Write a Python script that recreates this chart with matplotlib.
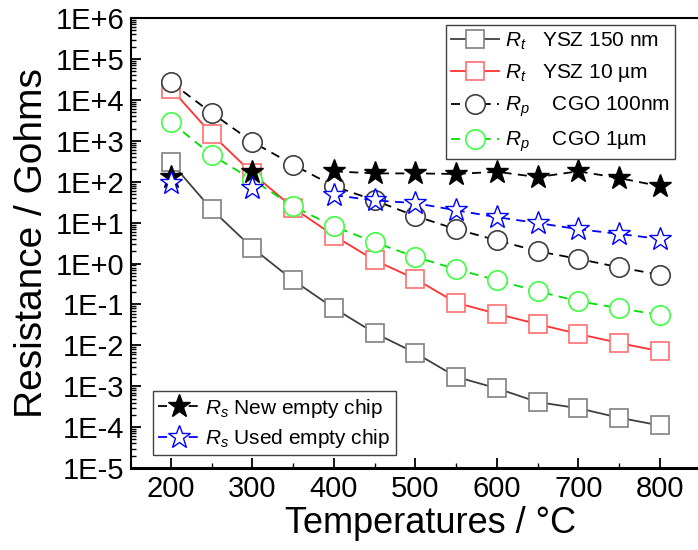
import matplotlib.pyplot as plt
import numpy as np
from matplotlib.ticker import FuncFormatter, MultipleLocator, LogLocator, NullFormatter

plt.rcParams['font.family'] = ['Liberation Sans', 'DejaVu Sans']
plt.rcParams['mathtext.fontset'] = 'custom'
plt.rcParams['mathtext.rm'] = 'Liberation Sans'
plt.rcParams['mathtext.it'] = 'Liberation Sans:italic'

# Data
temps = [200, 250, 300, 350, 400, 450, 500, 550, 600, 650, 700, 750, 800]
rt_ysz_150nm = [300, 21, 2.4, 0.39, 0.081, 0.020, 0.0065, 0.0017, 8.9e-4, 4.1e-4, 2.9e-4, 1.7e-4, 1.1e-4]
rt_ysz_10um = [1.9e4, 1450, 160, 23, 4.8, 1.2, 0.42, 0.11, 0.059, 0.033, 0.019, 0.0114, 0.0072]
rp_cgo_100nm = [2.7e4, 4800, 940, 260, 78, 35, 14.5, 6.9, 3.7, 2.0, 1.3, 0.81, 0.53]
rp_cgo_1um = [2870, 450, 112, 25, 8.1, 3.3, 1.45, 0.73, 0.39, 0.21, 0.12, 0.081, 0.055]
rs_new = [130, np.nan, 170, np.nan, 180, 160, 160, 155, 175, 130, 180, 123, 78]
rs_used = [93, np.nan, 69, np.nan, 47, 35, 30, 20, 13.6, 9.8, 6.9, 5.3, 4.0]

fig = plt.figure(figsize=(6.98, 5.5), dpi=100)
# right spine sits just past the canvas edge, as in the original
ax = fig.add_axes([0.1877, 0.149, 0.857, 0.818])

dash = (0, (5, 3.5))
l1, = ax.plot(temps, rt_ysz_150nm, '-', color='#404040', lw=1.3, marker='s', ms=13,
              mfc='white', mec='#808080', mew=1.2, label='$R_t$   YSZ 150 nm')
l2, = ax.plot(temps, rt_ysz_10um, '-', color='#ff3030', lw=1.3, marker='s', ms=13,
              mfc='white', mec='#ff7070', mew=1.2, label='$R_t$   YSZ 10 µm')
l3, = ax.plot(temps, rp_cgo_100nm, linestyle=dash, color='black', lw=1.3, marker='o', ms=14,
              mfc='white', mec='#404040', mew=1.2, label='$R_p$    CGO 100nm')
l4, = ax.plot(temps, rp_cgo_1um, linestyle=dash, color='#00e000', lw=1.3, marker='o', ms=14,
              mfc='white', mec='#40ff40', mew=1.2, label='$R_p$    CGO 1µm')
l5, = ax.plot(temps, rs_new, linestyle=dash, color='black', lw=1.3, marker='*', ms=17,
              mfc='black', mec='black', mew=1.0, label='$R_s$ New empty chip')
l6, = ax.plot(temps, rs_used, linestyle=dash, color='#0000ff', lw=1.3, marker='*', ms=17,
              mfc='white', mec='#0000ff', mew=1.0, label='$R_s$ Used empty chip')

ax.set_yscale('log')
ax.set_ylim(1e-5, 1e6)
ax.set_xlim(151, 885)

ax.xaxis.set_major_locator(MultipleLocator(100))
ax.xaxis.set_minor_locator(MultipleLocator(50))
ax.yaxis.set_major_locator(LogLocator(base=10, numticks=20))
ax.yaxis.set_minor_locator(LogLocator(base=10, subs=np.arange(2, 10), numticks=20))
ax.yaxis.set_minor_formatter(NullFormatter())
ax.yaxis.set_major_formatter(FuncFormatter(lambda v, p: '1E{:+d}'.format(int(round(np.log10(v))))))

ax.tick_params(which='major', direction='in', length=7, width=1.3, labelsize=21, pad=5)
ax.tick_params(which='minor', direction='in', length=3.5, width=1.0)
for s in ax.spines.values():
    s.set_linewidth(1.5)
ax.spines['bottom'].set_linewidth(2.2)

ax.set_xlabel('Temperatures / °C', fontsize=26, labelpad=2)
ax.set_ylabel('Resistance / Gohms', fontsize=28, labelpad=4)

leg1 = ax.legend(handles=[l1, l2, l3, l4], loc='upper right', bbox_to_anchor=(0.9097, 0.984),
                 borderaxespad=0, fontsize=15, numpoints=1, handlelength=2.3, handletextpad=0.3,
                 labelspacing=0.5, borderpad=0.25, fancybox=False, framealpha=1,
                 edgecolor='#404040')
leg1.get_frame().set_linewidth(1.0)
ax.add_artist(leg1)
leg2 = ax.legend(handles=[l5, l6], loc='lower left', bbox_to_anchor=(0.037, 0.029),
                 borderaxespad=0, fontsize=15, numpoints=1, handlelength=2.0, handletextpad=0.25,
                 labelspacing=0.35, borderpad=0.25, fancybox=False, framealpha=1,
                 edgecolor='#404040')
leg2.get_frame().set_linewidth(1.0)

plt.savefig('out.png', dpi=100)
